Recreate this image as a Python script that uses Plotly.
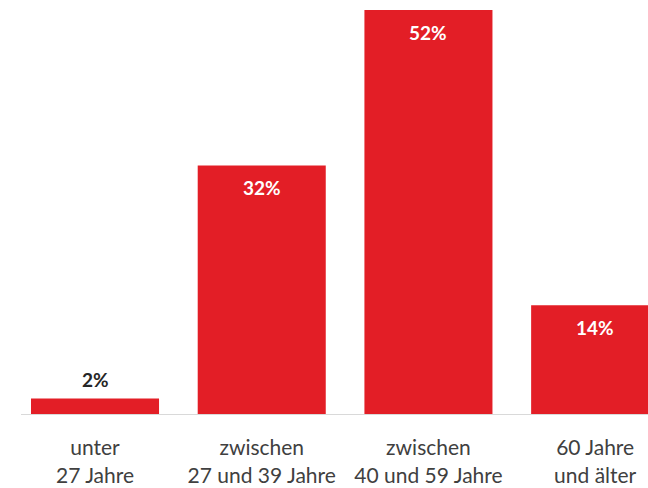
import plotly.graph_objects as go

categories = ["unter<br>27 Jahre", "zwischen<br>27 und 39 Jahre", "zwischen<br>40 und 59 Jahre", "60 Jahre<br>und älter"]
values = [2, 32, 52, 14]
labels = ["2%", "32%", "52%", "14%"]
inside = [False, True, True, True]

x_idx = list(range(len(categories)))
BAR = "#E31E26"

fig = go.Figure(go.Bar(x=x_idx, y=values, marker=dict(color=BAR, line=dict(width=0)),
                       hoverinfo="skip"))

for i, (v, lab, ins) in enumerate(zip(values, labels, inside)):
    fig.add_annotation(x=i, y=v, xref="x", yref="y", text=f"<b>{lab}</b>", showarrow=False,
                       yanchor="middle", yshift=-22 if ins else 19,
                       font=dict(family="Lato", size=19, color="#FFFFFF" if ins else "#262626"))

fig.update_layout(
    width=648, height=488,
    margin=dict(l=21, r=0, t=10, b=74),
    paper_bgcolor="white", plot_bgcolor="white",
    bargap=0.232,
    showlegend=False,
    xaxis=dict(tickmode="array", tickvals=x_idx, ticktext=categories,
               range=[-0.444, 3.317], showgrid=False, zeroline=False,
               showline=True, linecolor="#D9D9D9", linewidth=1,
               ticks="", ticklabelstandoff=15,
               tickfont=dict(family="Lato", size=21, color="#404040")),
    yaxis=dict(range=[0, 52], visible=False, showgrid=False, zeroline=False),
)

fig.write_html("out.html", config={"displayModeBar": False},
               post_script="document.body.style.margin='0';document.body.style.overflow='hidden';")
